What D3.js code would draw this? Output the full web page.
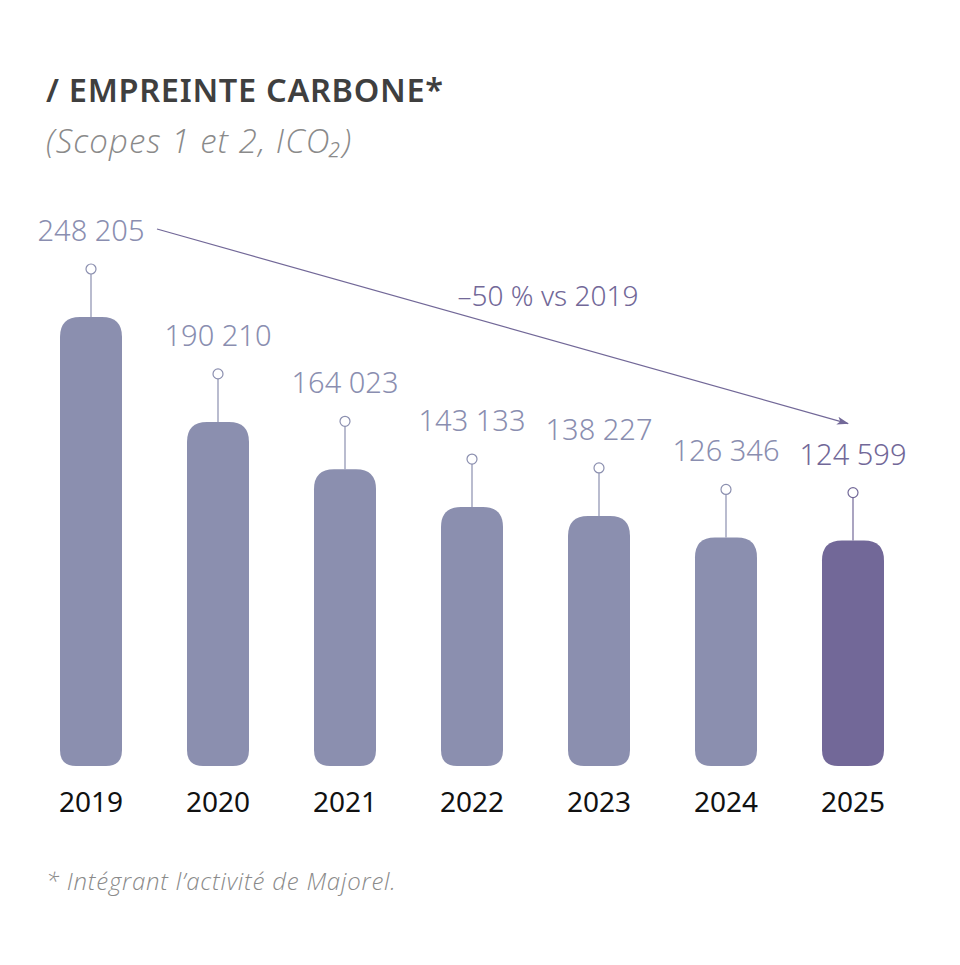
<!DOCTYPE html>
<html>
<head>
<meta charset="utf-8">
<script src="https://cdn.jsdelivr.net/npm/d3@7"></script>
<style>
  body { margin: 0; background: #fff; }
  svg { display: block; font-family: "Noto Sans", sans-serif; }
</style>
</head>
<body>
<div class="chart"></div>
<script>
// data
var years = ['2019', '2020', '2021', '2022', '2023', '2024', '2025'];
var values = [248205, 190210, 164023, 143133, 138227, 126346, 124599];
var labels = ['248 205', '190 210', '164 023', '143 133', '138 227', '126 346', '124 599'];

var width = 960,
    height = 965;

var barColor = '#8b8faf',
    lastColor = '#726898',
    labelColor = '#8a8eb0';

var svg = d3.select('.chart').append('svg')
    .attr('width', width)
    .attr('height', height);

// title block
svg.append('text')
    .attr('x', 46).attr('y', 102)
    .attr('font-size', 32.5).attr('font-weight', 600)
    .attr('letter-spacing', 0.7)
    .attr('fill', '#3f3f3f')
    .text('/ EMPREINTE CARBONE*');

svg.append('text')
    .attr('x', 46).attr('y', 153)
    .attr('font-size', 33).attr('font-style', 'italic').attr('font-weight', 300)
    .attr('font-family', '"Open Sans", sans-serif')
    .attr('letter-spacing', 1.1)
    .attr('fill', '#8a8a8a')
    .text('(Scopes 1 et 2, ICO₂)');

// scales
var x = d3.scaleBand()
    .domain(years)
    .range([60, 884])
    .paddingInner(65 / 127)
    .paddingOuter(0);

var y = d3.scaleLinear()
    .domain([0, values[0]])
    .range([766, 317]);

var bw = x.bandwidth();

// bar with rounded top and bottom
var barPath = function(x0, y0, w, y1) {
  var rt = 20, rb = 16;
  return 'M' + x0 + ',' + (y0 + rt) +
    'Q' + x0 + ',' + y0 + ' ' + (x0 + rt) + ',' + y0 +
    'L' + (x0 + w - rt) + ',' + y0 +
    'Q' + (x0 + w) + ',' + y0 + ' ' + (x0 + w) + ',' + (y0 + rt) +
    'L' + (x0 + w) + ',' + (y1 - rb) +
    'Q' + (x0 + w) + ',' + y1 + ' ' + (x0 + w - rb) + ',' + y1 +
    'L' + (x0 + rb) + ',' + y1 +
    'Q' + x0 + ',' + y1 + ' ' + x0 + ',' + (y1 - rb) + 'Z';
};

var g = svg.append('g');

var items = years.map(function(d, i) {
  return { year: d, value: values[i], label: labels[i], last: i === years.length - 1 };
});

g.selectAll('path.bar')
    .data(items)
  .enter().append('path')
    .attr('class', 'bar')
    .attr('d', function(d) { return barPath(x(d.year), y(d.value), bw, y(0)); })
    .attr('fill', function(d) { return d.last ? lastColor : barColor; });

// stems and circles
g.selectAll('line.stem')
    .data(items)
  .enter().append('line')
    .attr('x1', function(d) { return x(d.year) + bw / 2; })
    .attr('x2', function(d) { return x(d.year) + bw / 2; })
    .attr('y1', function(d) { return y(d.value) - 43; })
    .attr('y2', function(d) { return y(d.value); })
    .attr('stroke', function(d) { return d.last ? lastColor : barColor; })
    .attr('stroke-width', 1.2);

g.selectAll('circle')
    .data(items)
  .enter().append('circle')
    .attr('cx', function(d) { return x(d.year) + bw / 2; })
    .attr('cy', function(d) { return y(d.value) - 48; })
    .attr('r', 5)
    .attr('fill', '#fff')
    .attr('stroke', function(d) { return d.last ? lastColor : barColor; })
    .attr('stroke-width', 1.2);

// value labels
g.selectAll('text.val')
    .data(items)
  .enter().append('text')
    .attr('class', 'val')
    .attr('x', function(d) { return x(d.year) + bw / 2; })
    .attr('y', function(d) { return y(d.value) - 76; })
    .attr('text-anchor', 'middle')
    .attr('font-size', 29).attr('font-weight', 300)
    .attr('fill', function(d) { return d.last ? lastColor : labelColor; })
    .text(function(d) { return d.label; });

// year axis labels
g.selectAll('text.year')
    .data(items)
  .enter().append('text')
    .attr('x', function(d) { return x(d.year) + bw / 2; })
    .attr('y', 812)
    .attr('text-anchor', 'middle')
    .attr('font-size', 28)
    .attr('fill', '#111')
    .text(function(d) { return d.year; });

// trend arrow
svg.append('defs').append('marker')
    .attr('id', 'head')
    .attr('viewBox', '0 0 12 8')
    .attr('refX', 11).attr('refY', 4)
    .attr('markerWidth', 12).attr('markerHeight', 8)
    .attr('markerUnits', 'userSpaceOnUse')
    .attr('orient', 'auto')
  .append('path')
    .attr('d', 'M0,0L12,4L0,8L3,4Z')
    .attr('fill', lastColor);

var first = items[0], last = items[items.length - 1];
var ax1 = x(first.year) + bw / 2 + 66, ay1 = y(first.value) - 88;
var ax2 = x(last.year) + bw / 2 - 5, ay2 = y(last.value) - 117;

svg.append('line')
    .attr('x1', ax1).attr('y1', ay1)
    .attr('x2', ax2).attr('y2', ay2)
    .attr('stroke', lastColor)
    .attr('stroke-width', 1.2)
    .attr('marker-end', 'url(#head)');

svg.append('text')
    .attr('x', 548).attr('y', 306)
    .attr('text-anchor', 'middle')
    .attr('font-size', 28).attr('font-weight', 300)
    .attr('fill', lastColor)
    .text('–50 % vs 2019');

// footnote
svg.append('text')
    .attr('x', 46).attr('y', 890)
    .attr('font-size', 24).attr('font-style', 'italic').attr('font-weight', 300)
    .attr('font-family', '"Open Sans", sans-serif')
    .attr('letter-spacing', 0.8)
    .attr('fill', '#8a8a8a')
    .text('* Intégrant l’activité de Majorel.');
</script>
</body>
</html>
